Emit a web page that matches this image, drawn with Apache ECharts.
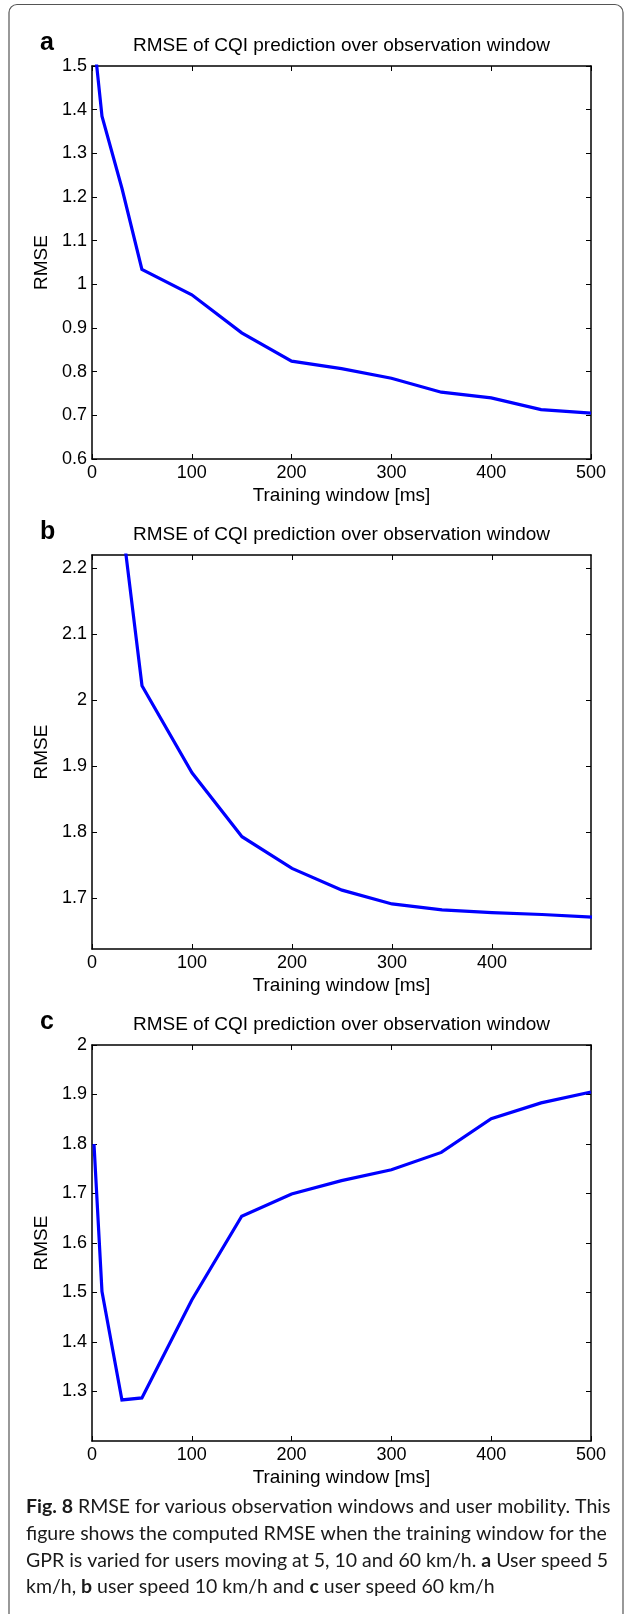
<!DOCTYPE html>
<html>
<head>
<meta charset="utf-8">
<title>RMSE of CQI prediction over observation window</title>
<script src="https://cdn.jsdelivr.net/npm/echarts@6/dist/echarts.min.js"></script>
<style>
  html, body { margin: 0; padding: 0; background: #fff; }
  #chart { width: 634px; height: 1614px; }
</style>
</head>
<body>
<div id="chart"></div>
<script>
// Training window lengths [ms]
const trainingWindow = [2, 10, 30, 50, 100, 150, 200, 250, 300, 350, 400, 450, 500];

// RMSE per panel: a = 5 km/h, b = 10 km/h, c = 60 km/h
const rmseSpeed5  = [1.56, 1.385, 1.22, 1.034, 0.976, 0.889, 0.824, 0.807, 0.785, 0.753, 0.740, 0.713, 0.705];
const rmseSpeed10 = [2.75, 2.55, 2.27, 2.022, 1.890, 1.793, 1.745, 1.712, 1.691, 1.682, 1.678, 1.675, 1.671];
const rmseSpeed60 = [1.80, 1.502, 1.283, 1.287, 1.485, 1.654, 1.699, 1.726, 1.748, 1.783, 1.851, 1.883, 1.905];

// Axis ranges and tick labels
const xTicksA = [0, 100, 200, 300, 400, 500];
const xTicksB = [0, 100, 200, 300, 400];
const xTicksC = [0, 100, 200, 300, 400, 500];
const yTicksA = [0.6, 0.7, 0.8, 0.9, 1, 1.1, 1.2, 1.3, 1.4, 1.5];
const yTicksB = [1.7, 1.8, 1.9, 2, 2.1, 2.2];
const yTicksC = [1.3, 1.4, 1.5, 1.6, 1.7, 1.8, 1.9, 2];
const xRangeA = [0, 500], xRangeB = [0, 499], xRangeC = [0, 500];
const yRangeA = [0.6, 1.5], yRangeB = [1.6227, 2.2202], yRangeC = [1.2, 2.0];

const panelLetters = ['a', 'b', 'c'];
const panelTitle = 'RMSE of CQI prediction over observation window';
const xName = 'Training window [ms]';
const yName = 'RMSE';

const captionLines = [
  '{b|Fig. 8} RMSE for various observation windows and user mobility. This',
  'figure shows the computed RMSE when the training window for the',
  'GPR is varied for users moving at 5, 10 and 60 km/h. {b|a} User speed 5',
  'km/h, {b|b} user speed 10 km/h and {b|c} user speed 60 km/h'
];

const FONT = '"Liberation Sans", Arial, Helvetica, sans-serif';
const CAPTION_FONT = 'Lato, "Noto Sans", sans-serif';
const CAPTION_SIZE = 19.5;

const panels = [
  { top: 66,   height: 393, data: rmseSpeed5,  xr: xRangeA, yr: yRangeA, xt: xTicksA, yt: yTicksA },
  { top: 555,  height: 394, data: rmseSpeed10, xr: xRangeB, yr: yRangeB, xt: xTicksB, yt: yTicksB },
  { top: 1045, height: 396, data: rmseSpeed60, xr: xRangeC, yr: yRangeC, xt: xTicksC, yt: yTicksC }
];
const plotLeft = 92, plotWidth = 499;

const lineStyle = { color: '#000', width: 1.5 };
const tickStyle = { color: '#000', width: 1 };

const grid = [], xAxis = [], yAxis = [], series = [], graphic = [];

panels.forEach((p, i) => {
  grid.push({ left: plotLeft, top: p.top, width: plotWidth, height: p.height, containLabel: false });

  // bottom (labelled) and top (ticks only) x axes
  xAxis.push({
    type: 'value', gridIndex: i, position: 'bottom', min: p.xr[0], max: p.xr[1],
    axisLine: { show: true, onZero: false, lineStyle },
    axisTick: { show: true, inside: true, length: 5, customValues: p.xt, lineStyle: tickStyle },
    axisLabel: { show: true, customValues: p.xt, margin: 5, fontSize: 18, fontFamily: FONT, color: '#000' },
    splitLine: { show: false },
    name: xName, nameLocation: 'middle', nameGap: 27,
    nameTextStyle: { fontSize: 19, fontFamily: FONT, color: '#000' }
  });
  xAxis.push({
    type: 'value', gridIndex: i, position: 'top', min: p.xr[0], max: p.xr[1],
    axisLine: { show: true, onZero: false, lineStyle },
    axisTick: { show: true, inside: true, length: 5, customValues: p.xt, lineStyle: tickStyle },
    axisLabel: { show: false },
    splitLine: { show: false }
  });

  // left (labelled) and right (ticks only) y axes
  yAxis.push({
    type: 'value', gridIndex: i, position: 'left', min: p.yr[0], max: p.yr[1],
    axisLine: { show: true, onZero: false, lineStyle },
    axisTick: { show: true, inside: true, length: 5, customValues: p.yt, lineStyle: tickStyle },
    axisLabel: { show: true, customValues: p.yt, margin: 5, fontSize: 18, fontFamily: FONT, color: '#000',
                 formatter: v => String(Math.round(v * 10) / 10) },
    splitLine: { show: false },
    name: yName, nameLocation: 'middle', nameGap: 34,
    nameTextStyle: { fontSize: 19, fontFamily: FONT, color: '#000' }
  });
  yAxis.push({
    type: 'value', gridIndex: i, position: 'right', min: p.yr[0], max: p.yr[1],
    axisLine: { show: true, onZero: false, lineStyle },
    axisTick: { show: true, inside: true, length: 5, customValues: p.yt, lineStyle: tickStyle },
    axisLabel: { show: false },
    splitLine: { show: false }
  });

  series.push({
    type: 'line', xAxisIndex: 2 * i, yAxisIndex: 2 * i,
    data: trainingWindow.map((w, k) => [w, p.data[k]]),
    showSymbol: false, symbol: 'none', clip: true, animation: false,
    lineStyle: { color: '#0000ff', width: 3.2, join: 'miter' }
  });

  // panel title and letter
  const baseline = p.top - 14;
  graphic.push({
    type: 'text', x: plotLeft + plotWidth / 2, y: baseline - 6.6,
    style: { text: panelTitle, font: '19px ' + FONT, fill: '#000', textAlign: 'center', textVerticalAlign: 'middle' }
  });
  graphic.push({
    type: 'text', x: 40, y: baseline - 8.5,
    style: { text: panelLetters[i], font: 'bold 25px ' + FONT, fill: '#000', textAlign: 'left', textVerticalAlign: 'middle' }
  });
});

// figure frame
graphic.push({
  type: 'rect', shape: { x: 9, y: 4.5, width: 614, height: 1640, r: 8 },
  style: { fill: null, stroke: '#555', lineWidth: 1.2 }, silent: true
});

// caption
const captionY = [1507, 1534, 1560.5, 1587];
captionLines.forEach((t, k) => {
  graphic.push({
    type: 'text', x: 26, y: captionY[k],
    style: {
      text: t, fontSize: CAPTION_SIZE, fontFamily: CAPTION_FONT, fill: '#1a1a1a',
      textAlign: 'left', textVerticalAlign: 'middle',
      rich: { b: { fontSize: CAPTION_SIZE, fontFamily: CAPTION_FONT, fontWeight: 'bold', fill: '#1a1a1a' } }
    }
  });
});

const chart = echarts.init(document.getElementById('chart'), null, { renderer: 'canvas' });
chart.setOption({
  animation: false,
  backgroundColor: '#fff',
  grid, xAxis, yAxis, series, graphic
});
</script>
</body>
</html>
